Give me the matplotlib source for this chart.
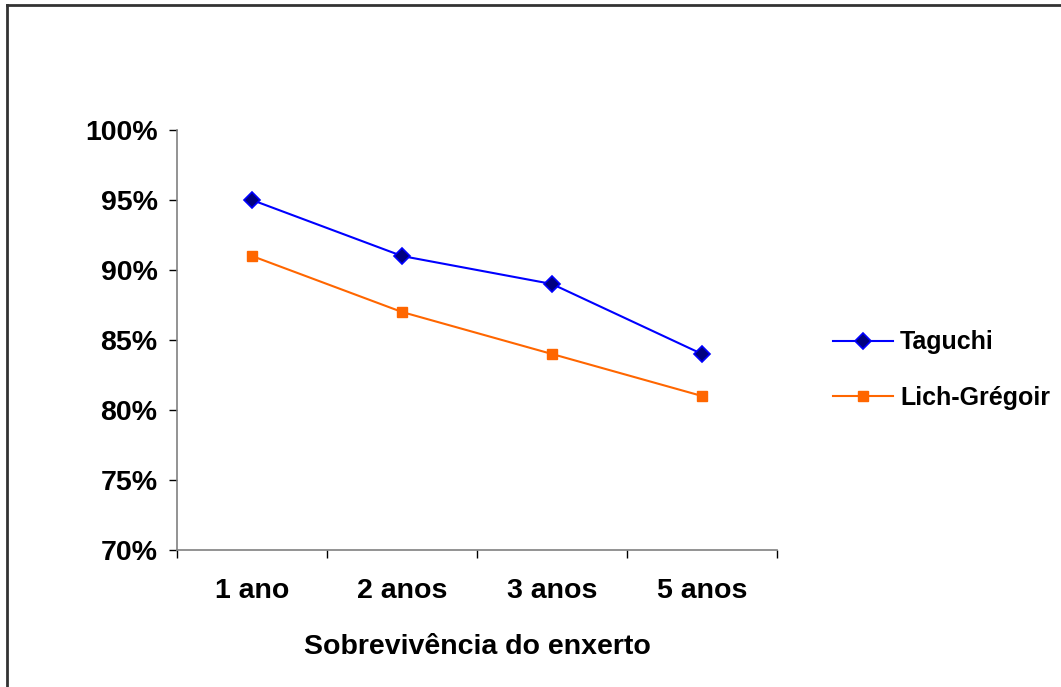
import matplotlib.pyplot as plt
from matplotlib.lines import Line2D
from matplotlib.ticker import FixedLocator, FuncFormatter

# sobrevivencia do enxerto por tecnica
categorias = ['1 ano', '2 anos', '3 anos', '5 anos']
taguchi = [95, 91, 89, 84]
lich_gregoir = [91, 87, 84, 81]

plt.rcParams['font.family'] = ['Liberation Sans', 'DejaVu Sans']
plt.rcParams['font.weight'] = 'bold'

fig = plt.figure(figsize=(10.61, 6.87), dpi=100)
ax = fig.add_axes([177 / 1061, 137 / 687, 600 / 1061, 420 / 687])

x = range(len(categorias))
ax.plot(x, taguchi, color='#0000FF', lw=1.5, marker='D', ms=8,
        markerfacecolor='#000080', markeredgecolor='#0000FF', markeredgewidth=1.2,
        label='Taguchi')
ax.plot(x, lich_gregoir, color='#FF6600', lw=1.5, marker='s', ms=7,
        markerfacecolor='#FF6600', markeredgecolor='#FF6600',
        label='Lich-Grégoir')

ax.set_xlim(-0.5, 3.5)
ax.set_ylim(70, 100)
ax.set_yticks(range(70, 101, 5))
ax.yaxis.set_major_formatter(FuncFormatter(lambda v, p: '%d%%' % v))
ax.set_xticks(list(x))
ax.set_xticklabels(categorias)
ax.xaxis.set_minor_locator(FixedLocator([-0.5, 0.5, 1.5, 2.5, 3.5]))

for s in ['top', 'right']:
    ax.spines[s].set_visible(False)
for s in ['left', 'bottom']:
    ax.spines[s].set_color('#808080')
    ax.spines[s].set_linewidth(1.2)

ax.tick_params(axis='y', length=6, width=1, color='black', labelsize=20.5, pad=8)
ax.tick_params(axis='x', which='major', length=0, labelsize=20.5, pad=20.5)
ax.tick_params(axis='x', which='minor', length=6, width=1, color='black')
ax.set_xlabel('Sobrevivência do enxerto', fontsize=20.5, fontweight='bold', labelpad=21)

fig.legend(loc='center left', bbox_to_anchor=(810 / 1061, 1 - 370 / 687),
           frameon=False, fontsize=18, handlelength=2.4, handletextpad=0.3,
           labelspacing=1.25)

# moldura do grafico
fig.add_artist(Line2D([7 / 1061, 7 / 1061], [0, 1 - 5 / 687], color='#333333', lw=2))
fig.add_artist(Line2D([7 / 1061, 1], [1 - 5 / 687, 1 - 5 / 687], color='#333333', lw=2))

fig.savefig('out.png', dpi=100)
